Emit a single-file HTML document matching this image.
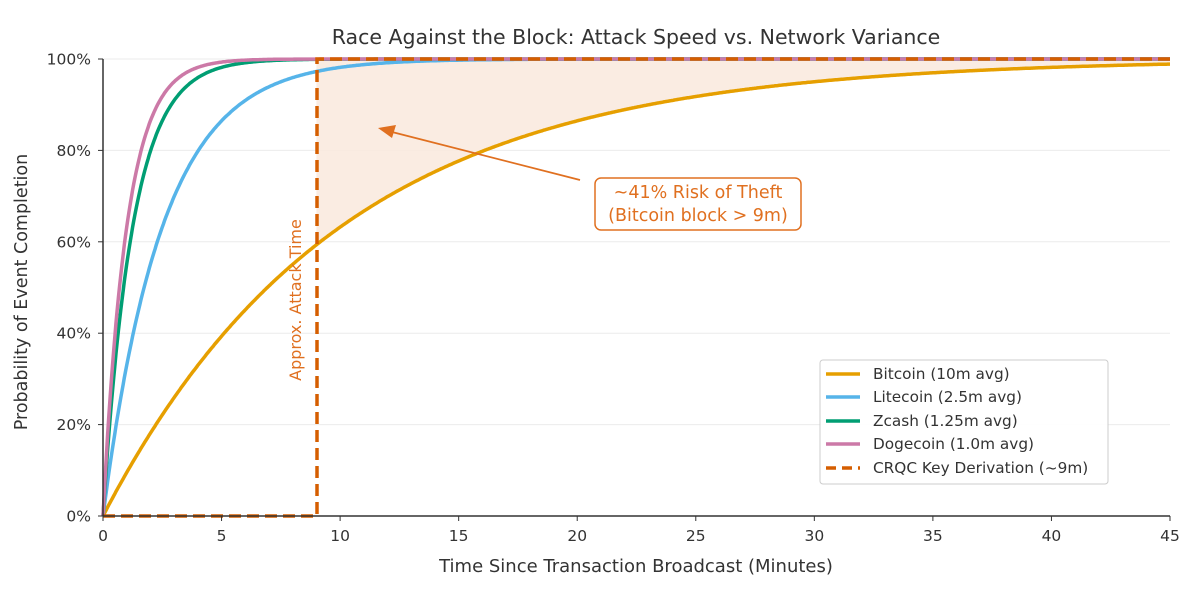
<!DOCTYPE html>
<html><head><meta charset="utf-8"><style>
body{margin:0;background:#fff}
svg text{font-family:"DejaVu Sans","Liberation Sans",sans-serif}
</style></head><body>
<svg id="s" width="1200" height="596" viewBox="0 0 1200 596" xmlns="http://www.w3.org/2000/svg">
<rect width="1200" height="596" fill="#fff"/>
<g stroke="#ebebeb" stroke-width="1">
<line x1="103" x2="1170" y1="59" y2="59"/><line x1="103" x2="1170" y1="150.4" y2="150.4"/>
<line x1="103" x2="1170" y1="241.8" y2="241.8"/><line x1="103" x2="1170" y1="333.2" y2="333.2"/>
<line x1="103" x2="1170" y1="424.6" y2="424.6"/>
</g>
<path id="fill" fill="#f9e9dd" fill-opacity="0.85"/>
<g id="curves" fill="none" stroke-width="3.5"></g>
<path d="M103 516 H317 V59 H1170" fill="none" stroke="#d55e00" stroke-width="3.5" stroke-dasharray="12,6"/>
<g stroke="#333" stroke-width="1.5">
<line x1="103" y1="59" x2="103" y2="516"/><line x1="103" y1="516" x2="1170" y2="516"/>
</g>
<g id="ticks" font-size="15.5" fill="#333"></g>
<text x="636" y="44" font-size="20.5" text-anchor="middle" fill="#333">Race Against the Block: Attack Speed vs. Network Variance</text>
<text x="636" y="572" font-size="18" text-anchor="middle" fill="#333">Time Since Transaction Broadcast (Minutes)</text>
<text transform="translate(27,292) rotate(-90)" font-size="17.5" text-anchor="middle" fill="#333">Probability of Event Completion</text>
<text transform="translate(301,300) rotate(-90)" font-size="16" text-anchor="middle" fill="#e07020">Approx. Attack Time</text>
<line x1="580" y1="180" x2="392" y2="132" stroke="#e07020" stroke-width="1.8"/>
<polygon points="378,128 396,125 392,138" fill="#e07020"/>
<rect x="595" y="178" width="206" height="52" rx="6" fill="#fff" stroke="#e07020" stroke-width="1.5"/>
<text x="698" y="198" font-size="17.5" text-anchor="middle" fill="#e07020">~41% Risk of Theft</text>
<text x="698" y="221" font-size="17.5" text-anchor="middle" fill="#e07020">(Bitcoin block &gt; 9m)</text>
<rect x="820" y="360" width="288" height="124" rx="3" fill="#fff" fill-opacity="0.9" stroke="#ccc"/>
<g stroke-width="3.5">
<line x1="826" x2="860" y1="374" y2="374" stroke="#e69f00"/>
<line x1="826" x2="860" y1="397" y2="397" stroke="#56b4e9"/>
<line x1="826" x2="860" y1="421" y2="421" stroke="#009e73"/>
<line x1="826" x2="860" y1="444" y2="444" stroke="#cc79a7"/>
<line x1="826" x2="860" y1="468" y2="468" stroke="#d55e00" stroke-dasharray="10,6"/>
</g>
<g font-size="15.3" fill="#333">
<text x="873" y="379">Bitcoin (10m avg)</text>
<text x="873" y="402">Litecoin (2.5m avg)</text>
<text x="873" y="426">Zcash (1.25m avg)</text>
<text x="873" y="449">Dogecoin (1.0m avg)</text>
<text x="873" y="473">CRQC Key Derivation (~9m)</text>
</g>
</svg>
<script>
const X=t=>103+t*1067/45, Y=p=>516-p*457;
const g=document.getElementById('curves');
[[10,'#e69f00'],[2.5,'#56b4e9'],[1.25,'#009e73'],[1.0,'#cc79a7']].forEach(([tau,c])=>{
 let d='';for(let i=0;i<=900;i++){const t=i*45/900;d+=(i?'L':'M')+X(t).toFixed(1)+' '+Y(1-Math.exp(-t/tau)).toFixed(1);}
 const p=document.createElementNS('http://www.w3.org/2000/svg','path');p.setAttribute('d',d);p.setAttribute('stroke',c);g.appendChild(p);});
let d='M'+X(9)+' '+Y(1);for(let i=0;i<=360;i++){const t=9+i*36/360;d+='L'+X(t).toFixed(1)+' '+Y(1-Math.exp(-t/10)).toFixed(1);}d+='L'+X(45)+' '+Y(1)+'Z';
document.getElementById('fill').setAttribute('d',d);
const tk=document.getElementById('ticks');let h='';
for(let t=0;t<=45;t+=5){const x=X(t);h+=`<line x1="${x}" x2="${x}" y1="516" y2="521" stroke="#333"/><text x="${x}" y="541" text-anchor="middle">${t}</text>`;}
for(let p=0;p<=100;p+=20){const y=Y(p/100);h+=`<line x1="98" x2="103" y1="${y}" y2="${y}" stroke="#333"/><text x="91" y="${y+5.5}" text-anchor="end">${p}%</text>`;}
tk.innerHTML=h;
</script>
</body></html>
